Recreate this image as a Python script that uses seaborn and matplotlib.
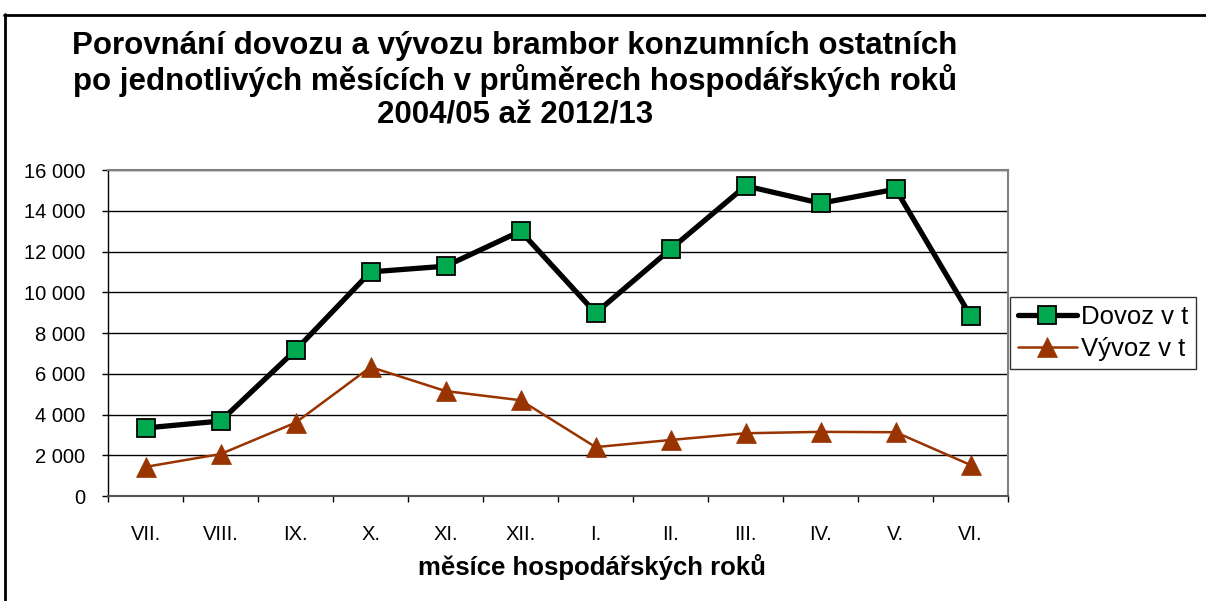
import matplotlib
matplotlib.use("Agg")
import matplotlib.pyplot as plt
import seaborn as sns
import pandas as pd
import numpy as np
from matplotlib.ticker import FuncFormatter, MultipleLocator, FixedLocator

months = ["VII.", "VIII.", "IX.", "X.", "XI.", "XII.", "I.", "II.", "III.", "IV.", "V.", "VI."]
dovoz = [3340, 3680, 7160, 11000, 11280, 13000, 8980, 12120, 15220, 14370, 15060, 8830]
vyvoz = [1430, 2060, 3600, 6330, 5150, 4700, 2400, 2750, 3080, 3150, 3130, 1520]

title = "Porovnání dovozu a vývozu brambor konzumních ostatních\npo jednotlivých měsících v průměrech hospodářských roků\n2004/05 až 2012/13"
xlabel = "měsíce hospodářských roků"
label_d = "Dovoz v t"
label_v = "Vývoz v t"

sns.set_theme(style="white")
plt.rcParams['font.family'] = ['Liberation Sans', 'DejaVu Sans']
plt.rcParams['text.color'] = 'black'
plt.rcParams['axes.labelcolor'] = 'black'
plt.rcParams['xtick.color'] = 'black'
plt.rcParams['ytick.color'] = 'black'

fig = plt.figure(figsize=(12.06, 6.01), dpi=100)
ax = fig.add_axes([0.0896, 0.1747, 0.7464, 0.5424])

idx = np.arange(len(months))
df = pd.DataFrame({"x": idx, "d": dovoz, "v": vyvoz})

sns.lineplot(data=df, x="x", y="d", ax=ax, color="black", linewidth=3.8,
             marker="s", markersize=13, markerfacecolor="#00A84F",
             markeredgecolor="black", markeredgewidth=1.3, label=label_d, zorder=4)
sns.lineplot(data=df, x="x", y="v", ax=ax, color="#993300", linewidth=1.8,
             marker="^", markersize=15, markerfacecolor="#993300",
             markeredgecolor="#993300", markeredgewidth=0.5, label=label_v, zorder=3)

ax.set_xlim(-0.5, len(months) - 0.5)
ax.set_ylim(0, 16000)
ax.yaxis.set_major_locator(MultipleLocator(2000))
ax.yaxis.set_major_formatter(FuncFormatter(lambda v, p: f"{int(v):,}".replace(",", " ")))
ax.grid(axis="y", color="black", linewidth=1.0)
ax.set_axisbelow(True)

ax.set_xticks(idx)
ax.set_xticklabels(months)
ax.xaxis.set_minor_locator(FixedLocator(np.arange(-0.5, len(months), 1.0)))
ax.tick_params(axis="x", which="major", length=0, pad=21, labelsize=14.5)
ax.tick_params(axis="x", which="minor", length=4.5, width=1, color="black", direction="out", bottom=True)
ax.tick_params(axis="y", which="major", length=4.5, width=1, color="black", direction="out", left=True, labelsize=14.5, pad=12)

for s in ["top", "right"]:
    ax.spines[s].set_color("#808080")
    ax.spines[s].set_linewidth(1.5)
ax.spines["left"].set_color("black")
ax.spines["left"].set_linewidth(1.0)
ax.spines["bottom"].set_color("#555555")
ax.spines["bottom"].set_linewidth(1.5)

ax.set_xlabel(xlabel, fontsize=18.5, fontweight="bold")
ax.xaxis.set_label_coords(0.537, -0.178)
ax.set_ylabel("")

fig.text(0.427, 0.948, title, ha="center", va="top", fontsize=22.5, fontweight="bold", linespacing=1.12)

leg = ax.legend(loc="center left", bbox_to_anchor=(1.002, 0.5), frameon=True, fancybox=False,
                edgecolor="black", fontsize=18.5, handlelength=2.3, handletextpad=0.15,
                borderpad=0.3, labelspacing=0.3, borderaxespad=0)
leg.get_frame().set_linewidth(1.0)

# figure border (top and left)
fig.add_artist(plt.Line2D([0.003, 1.0], [0.975, 0.975], transform=fig.transFigure, color="black", linewidth=2))
fig.add_artist(plt.Line2D([0.004, 0.004], [0.0, 0.976], transform=fig.transFigure, color="black", linewidth=2))

fig.savefig("out.png", dpi=100)
